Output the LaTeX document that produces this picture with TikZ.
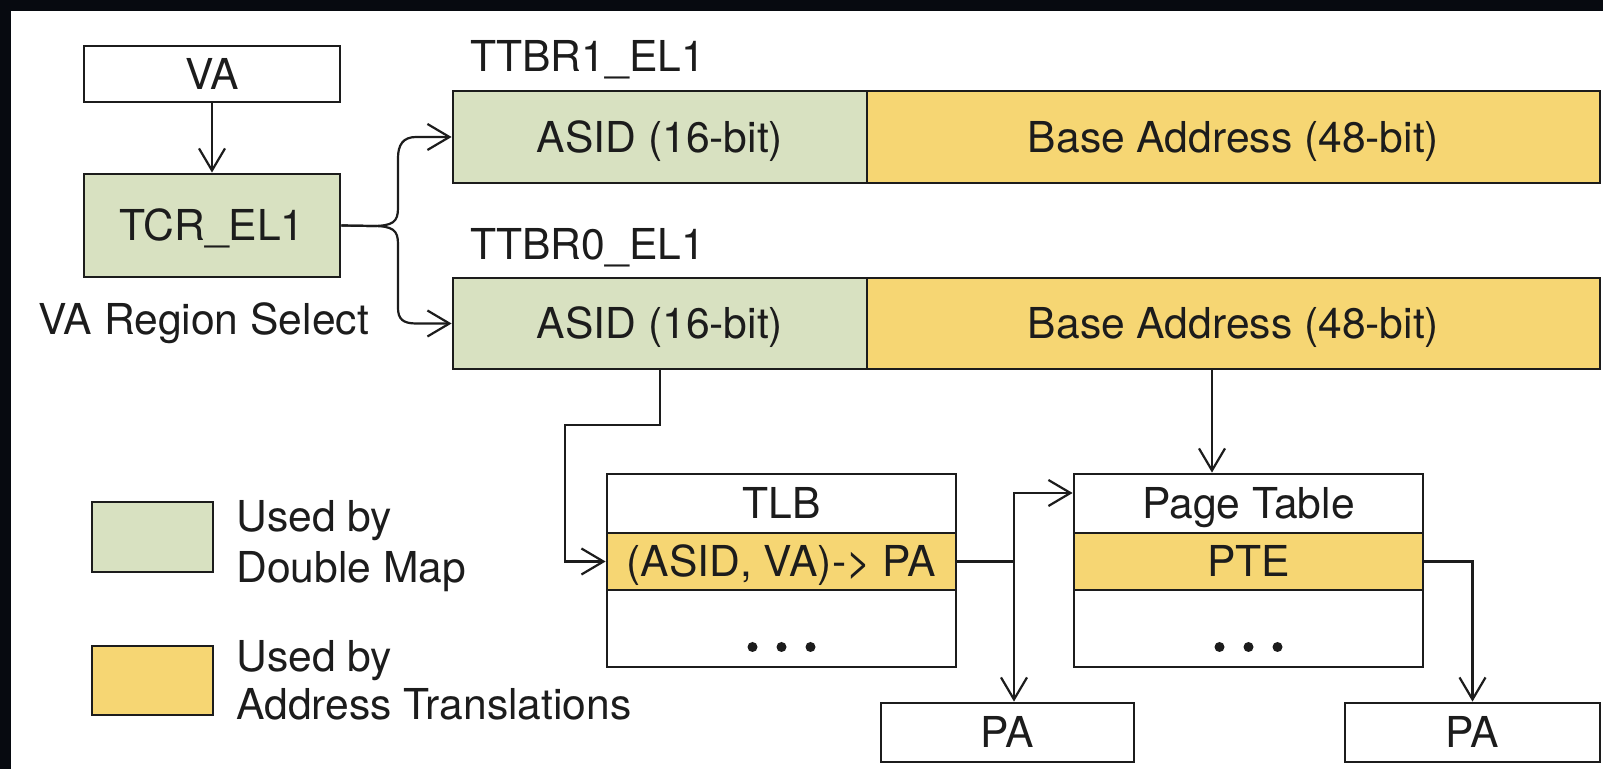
\documentclass[tikz,border=0pt]{standalone}
\usepackage{fontspec}
\setmainfont{TeX Gyre Heros}
\usetikzlibrary{arrows.meta,calc}
\definecolor{dmap}{HTML}{D8E1C1}
\definecolor{atrans}{HTML}{F6D673}
\definecolor{ink}{HTML}{1C1C1C}
\definecolor{frame}{HTML}{070A10}
\tikzset{
  lbl/.style={font=\fontsize{21.3}{25}\selectfont, inner sep=0pt, text=ink},
  cell/.style={lbl, draw=ink, line width=1.4pt, text height=15.3pt, text depth=0pt, align=center},
  conn/.style={draw=ink, line width=1.1pt},
  arr/.style={conn, -{Straight Barb[length=11pt,width=13pt]}},
}
\begin{document}
\begin{tikzpicture}[x=0.5pt, y=-0.5pt]
  % canvas: dark strips along the top and left, white sheet elsewhere
  \useasboundingbox (0,0) rectangle (1603,769);
  \fill[white] (-20,-20) rectangle (1630,800);
  \fill[frame] (-20,-20) rectangle (1630,11);
  \fill[frame] (-20,-20) rectangle (11,800);

  % virtual address and region select
  \node[cell, minimum width=128pt, minimum height=28pt] (va) at (212,74) {VA};
  \node[cell, fill=dmap, minimum width=128pt, minimum height=51.5pt] (tcr) at (212,225.5) {TCR\_EL1};
  \node[lbl, anchor=base west] (vars) at (38,335) {VA Region Select};

  % translation table base registers
  \node[lbl, anchor=base west] (t1lbl) at (470,72) {TTBR1\_EL1};
  \node[cell, fill=dmap, minimum width=207pt, minimum height=46pt] (a1) at (660,137) {ASID (16-bit)};
  \node[cell, fill=atrans, minimum width=366.5pt, minimum height=46pt] (b1) at (1233.5,137) {Base Address (48-bit)};

  \node[lbl, anchor=base west] (t0lbl) at (470,260) {TTBR0\_EL1};
  \node[cell, fill=dmap, minimum width=207pt, minimum height=45.5pt] (a0) at (660,323.5) {ASID (16-bit)};
  \node[cell, fill=atrans, minimum width=366.5pt, minimum height=45.5pt] (b0) at (1233.5,323.5) {Base Address (48-bit)};

  % TLB
  \node[cell, fill=white, minimum width=174.5pt, minimum height=29.5pt] (tlbhead) at (781.5,503.5) {TLB};
  \node[cell, fill=atrans, minimum width=174.5pt, minimum height=28.5pt] (tlbrow) at (781.5,561.5) {(ASID, VA)-> PA};
  \node[cell, fill=white, minimum width=174.5pt, minimum height=38.5pt] (tlbrest) at (781.5,628.5) {};

  % page table
  \node[cell, fill=white, minimum width=174.5pt, minimum height=29.5pt] (pthead) at (1248.5,503.5) {Page Table};
  \node[cell, fill=atrans, minimum width=174.5pt, minimum height=28.5pt] (ptrow) at (1248.5,561.5) {PTE};
  \node[cell, fill=white, minimum width=174.5pt, minimum height=38.5pt] (ptrest) at (1248.5,628.5) {};

  \foreach \dx in {-29,0,29} {
    \fill[ink] ($(tlbrest.center)+(\dx,18.5)$) circle[radius=2.5pt];
    \fill[ink] ($(ptrest.center)+(\dx,18.5)$) circle[radius=2.5pt];
  }

  % physical addresses
  \node[cell, minimum width=126.5pt, minimum height=29.5pt] (pa1) at (1007.5,732.5) {PA};
  \node[cell, minimum width=127.5pt, minimum height=29.5pt] (pa2) at (1472.5,732.5) {PA};

  % legend
  \node[cell, fill=dmap, minimum width=60.5pt, minimum height=35pt] (leg1) at (152.5,537) {};
  \node[lbl, anchor=base west] (leg1a) at (236,532) {Used by};
  \node[lbl, anchor=base west] (leg1b) at (236,583) {Double Map};
  \node[cell, fill=atrans, minimum width=60.5pt, minimum height=34.5pt] (leg2) at (152.5,680.5) {};
  \node[lbl, anchor=base west] (leg2a) at (236,672) {Used by};
  \node[lbl, anchor=base west] (leg2b) at (236,720) {Address Translations};

  % connectors
  \draw[arr] (va) -- (tcr);
  \draw[arr] (tcr.east) -- (372,226) .. controls (393,226) and (398,222) .. (398,208)
    -- (398,158) .. controls (398,145) and (403,137) .. (416,137) -- (a1.west);
  \draw[arr] (tcr.east) -- (372,226) .. controls (393,226) and (398,230) .. (398,244)
    -- (398,308) .. controls (398,319) and (403,323.5) .. (416,323.5) -- (a0.west);

  \coordinate (k1) at (565,425);
  \draw[arr] (a0.south) |- (k1) |- (tlbrow.west);

  \coordinate (pbx) at (1212,0);
  \draw[arr] (b0.south -| pbx) -- (pthead.north -| pbx);

  \coordinate (j1) at (1014,493);
  \draw[arr] (tlbrow.east) -| (j1) -- (j1 -| pthead.west);
  \draw[arr] (tlbrow.east -| j1) -- (pa1.north -| j1);

  \draw[arr] (ptrow.east) -| (pa2.north);
\end{tikzpicture}
\end{document}
